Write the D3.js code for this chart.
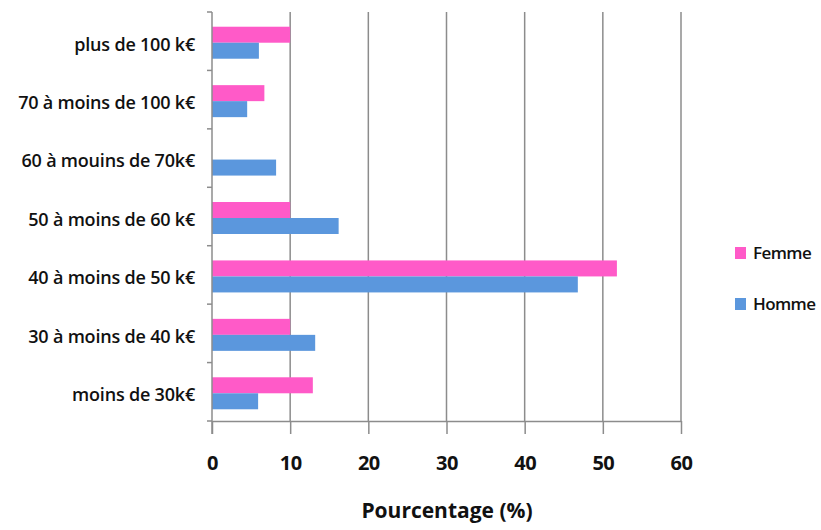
<!DOCTYPE html>
<html>
<head>
<meta charset="utf-8">
<script src="https://cdn.jsdelivr.net/npm/d3@7"></script>
<style>
  body { margin: 0; background: #fff; }
  svg text { font-family: "Open Sans", Lato, sans-serif; fill: #111; }
</style>
</head>
<body>
<div class="chart"></div>
<script>
// categories, top to bottom
var categories = ["plus de 100 k€", "70 à moins de 100 k€", "60 à mouins de 70k€",
  "50 à moins de 60 k€", "40 à moins de 50 k€", "30 à moins de 40 k€", "moins de 30k€"];
var femme = [10, 6.7, 0, 10, 51.8, 10, 12.9];
var homme = [6, 4.5, 8.2, 16.2, 46.8, 13.2, 5.9];
var seriesNames = ["Femme", "Homme"];
var xTicks = [0, 10, 20, 30, 40, 50, 60];

var colors = { Femme: "#ff5ac8", Homme: "#5b97dd" };

var margin = { top: 12, left: 212 },
    width = 681 - 212,
    height = 421 - 12;

var svg = d3.select(".chart")
  .append("svg")
  .attr("width", 821)
  .attr("height", 530);

var g = svg.append("g")
  .attr("transform", "translate(" + margin.left + "," + margin.top + ")");

var x = d3.scaleLinear().domain([0, 60]).range([0, width]);
var y = d3.scaleBand().domain(categories).range([0, height]);

// vertical gridlines
g.selectAll(".grid")
  .data(xTicks.slice(1))
  .enter()
  .append("line")
  .attr("x1", function(d) { return x(d); })
  .attr("x2", function(d) { return x(d); })
  .attr("y1", 0)
  .attr("y2", height)
  .attr("stroke", "#8c8c8c")
  .attr("stroke-width", 1.5);

// bars
var barH = 16;
var data = categories.map(function(c, i) {
  return { cat: c, Femme: femme[i], Homme: homme[i] };
});
seriesNames.forEach(function(s, k) {
  g.selectAll(".bar-" + s)
    .data(data)
    .enter()
    .append("rect")
    .attr("x", 0)
    .attr("y", function(d) { return y(d.cat) + y.bandwidth() / 2 - barH + 1.5 + k * barH; })
    .attr("width", function(d) { return x(d[s]); })
    .attr("height", barH)
    .attr("fill", colors[s]);
});

// x axis
var xAxis = g.append("g")
  .attr("transform", "translate(0," + height + ")")
  .call(d3.axisBottom(x).tickValues(xTicks).tickSize(13).tickSizeOuter(0).tickPadding(22));
xAxis.select(".domain").attr("stroke", "#8c8c8c").attr("stroke-width", 1.5);
xAxis.selectAll(".tick line").attr("stroke", "#8c8c8c").attr("stroke-width", 1.5);
xAxis.selectAll(".tick text")
  .style("font-size", "20px")
  .style("font-weight", "bold")
  .style("letter-spacing", "-0.5px")
  .attr("fill", "#111");

// y axis
var yTickPos = d3.range(categories.length + 1).map(function(i) { return i * y.step(); });
g.append("line")
  .attr("x1", 0).attr("x2", 0)
  .attr("y1", 0).attr("y2", height + 13)
  .attr("stroke", "#8c8c8c")
  .attr("stroke-width", 1.5);
g.selectAll(".ytick")
  .data(yTickPos)
  .enter()
  .append("line")
  .attr("x1", -5).attr("x2", 0)
  .attr("y1", function(d) { return d; })
  .attr("y2", function(d) { return d; })
  .attr("stroke", "#8c8c8c")
  .attr("stroke-width", 1.5);
g.selectAll(".ylabel")
  .data(categories)
  .enter()
  .append("text")
  .attr("x", -17)
  .attr("y", function(d) { return y(d) + y.bandwidth() / 2 + 3; })
  .attr("dy", "0.35em")
  .attr("text-anchor", "end")
  .style("font-size", "18px")
  .style("font-weight", "600")
  .style("letter-spacing", "-0.2px")
  .text(function(d) { return d; });

// axis title
svg.append("text")
  .attr("x", 447)
  .attr("y", 518)
  .attr("text-anchor", "middle")
  .style("font-size", "21px")
  .style("font-weight", "bold")
  .style("letter-spacing", "0px")
  .text("Pourcentage (%)");

// legend
var legend = svg.selectAll(".legend")
  .data(seriesNames)
  .enter()
  .append("g")
  .attr("transform", function(d, i) { return "translate(735," + (247 + i * 51) + ")"; });
legend.append("rect")
  .attr("width", 11)
  .attr("height", 12)
  .attr("fill", function(d) { return colors[d]; });
legend.append("text")
  .attr("x", 18)
  .attr("y", 6)
  .attr("dy", "0.35em")
  .style("font-size", "17px")
  .style("font-weight", "600")
  .style("letter-spacing", "-0.6px")
  .text(function(d) { return d; });
</script>
</body>
</html>
